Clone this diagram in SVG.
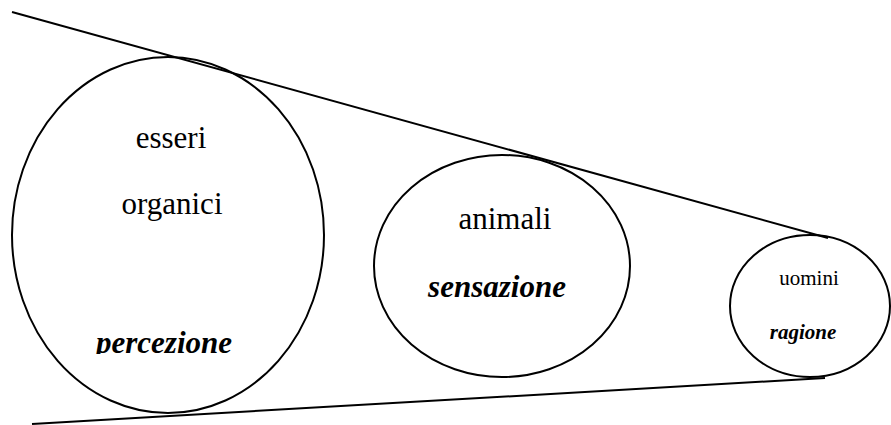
<svg xmlns="http://www.w3.org/2000/svg" width="891" height="425" viewBox="0 0 891 425">
<style>
.shape{fill:none;stroke:#000;stroke-width:2}
.line{stroke:#000;stroke-width:2;fill:none}
.t{font-family:"Liberation Serif","Times New Roman",serif;fill:#000;text-anchor:middle}
.bi{font-weight:bold;font-style:italic}
</style>
<defs>
<clipPath id="clipP"><rect x="0" y="0" width="891" height="354"/></clipPath>
</defs>
<rect width="891" height="425" fill="#fff"/>
<g id="connectors">
<line class="line" x1="12" y1="12" x2="828" y2="238"/>
<line class="line" x1="32" y1="424" x2="825" y2="378"/>
</g>
<g id="node-esseri">
<ellipse class="shape" cx="168" cy="235" rx="156" ry="178"/>
<text class="t" x="171" y="148" font-size="31">esseri</text>
<text class="t" x="172" y="214" font-size="31">organici</text>
<text class="t bi" x="164" y="353" font-size="31" clip-path="url(#clipP)">percezione</text>
</g>
<g id="node-animali">
<ellipse class="shape" cx="502" cy="266" rx="128" ry="111"/>
<text class="t" x="505" y="229" font-size="31">animali</text>
<text class="t bi" x="497" y="297" font-size="31">sensazione</text>
</g>
<g id="node-uomini">
<ellipse class="shape" cx="810" cy="306" rx="80" ry="71"/>
<text class="t" x="809" y="285" font-size="21">uomini</text>
<text class="t bi" x="803" y="339" font-size="21">ragione</text>
</g>
</svg>
